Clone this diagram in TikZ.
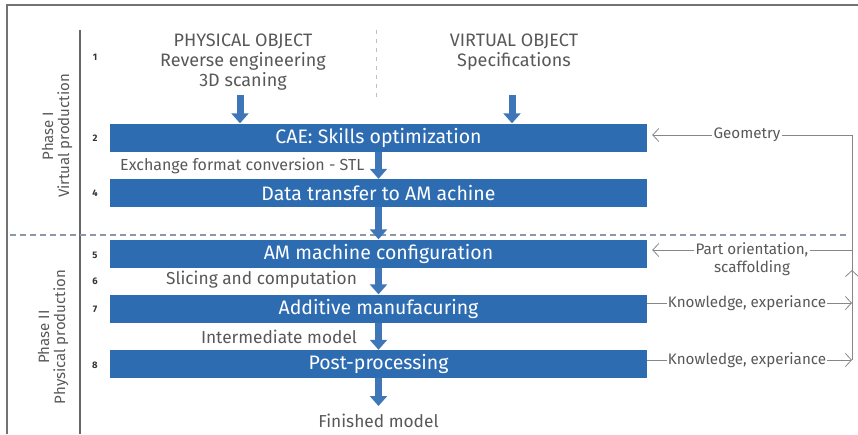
\documentclass[tikz,border=0pt]{standalone}
\usepackage{fontspec}
\setmainfont{Fira Sans}
\usetikzlibrary{arrows.meta}
\definecolor{boxblue}{RGB}{46,108,178}
\definecolor{arrowblue}{RGB}{62,118,184}
\definecolor{txtgray}{RGB}{88,88,88}
\definecolor{linegray}{RGB}{135,135,135}
\definecolor{dashgray}{RGB}{140,152,168}
\begin{document}
\begin{tikzpicture}[x=1pt,y=-1pt,
  stage/.style={fill=boxblue, text=white, minimum width=537pt, minimum height=28pt,
    inner sep=0pt, font=\fontsize{19.5}{21}\selectfont},
  flow/.style={draw=arrowblue, line width=7pt, -{Triangle[length=10pt,width=17pt]}},
  fb/.style={draw=linegray, line width=0.8pt},
  fbtip/.style={-{Straight Barb[length=6pt,width=13pt]}},
  note/.style={text=txtgray, inner sep=1pt, font=\fontsize{17.3}{19}\selectfont},
  xnote/.style={text=txtgray, inner sep=1pt, font=\fontsize{16}{18}\selectfont},
  small/.style={text=txtgray, inner sep=1pt, font=\fontsize{15.2}{17}\selectfont},
  head/.style={text=txtgray, align=center, inner sep=0pt, font=\fontsize{18}{20}\selectfont},
  num/.style={text=black!80, inner sep=0pt, font=\bfseries\fontsize{9.5}{10}\selectfont},
  phase/.style={text=txtgray, align=center, rotate=90, inner sep=0pt, font=\fontsize{15}{16}\selectfont}]
\useasboundingbox (0,0) rectangle (858,434);

% frame and phase rail
\draw[draw=black!55, line width=1.2pt] (7,434) -- (7,5) -- (858,5);
\draw[draw=black!60, line width=1.5pt] (80,30) -- (80,434);
\draw[draw=black!25, line width=1pt, dash pattern=on 4pt off 5pt] (376,30) -- (376,100);
\draw[draw=dashgray, line width=1.2pt, dash pattern=on 6pt off 4pt] (10,235) -- (848,235);

% phase labels
\node[phase] (ph1) at (57,136) {Phase I\\Virtual production};
\node[phase] (ph2) at (53,337) {Phase II\\Physical production};

% sources
\node[head] (phys) at (243,62) {PHYSICAL OBJECT\\Reverse engineering\\3D scaning};
\node[head] (virt) at (514,52) {VIRTUAL OBJECT\\Specifications};
\coordinate (physout) at (240,95);
\coordinate (virtout) at (512,95);

% stages
\node[stage] (b2) at (378.5,137.5) {CAE: Skills optimization};
\node[stage] (b4) at (378.5,193) {Data transfer to AM achine};
\node[stage] (b5) at (378.5,253.5) {AM machine configuration};
\node[stage] (b7) at (378.5,308.5) {Additive manufacuring};
\node[stage] (b8) at (378.5,364) {Post-processing};
\coordinate (finish) at (378.5,406);

% step numbers
\node[num] (n1) at (95,57) {1};
\node[num] (n2) at (95,138) {2};
\node[num] (n4) at (95,193) {4};
\node[num] (n5) at (95,255) {5};
\node[num] (n6) at (95,281) {6};
\node[num] (n7) at (95,309) {7};
\node[num] (n8) at (95,365) {8};

% intermediate labels
\node[xnote, anchor=west] (xchg) at (119,166) {Exchange format conversion - STL};
\node[note] (slice) at (261.5,280) {Slicing and computation};
\node[note] (inter) at (279,337) {Intermediate model};
\node[note] (done) at (378.5,421) {Finished model};

% main flow
\draw[flow] (physout) -- (physout |- b2.north);
\draw[flow] (virtout) -- (virtout |- b2.north);
\draw[flow] (b2.south) -- (b4.north);
\draw[flow] (b4.south) -- (b5.north);
\draw[flow] (b5.south) -- (b7.north);
\draw[flow] (b7.south) -- (b8.north);
\draw[flow] (b8.south) -- (finish);

% feedback loop
\coordinate (rail) at (852,0);
\node[small] (geo) at (747,135) {Geometry};
\node[small] (po) at (752,250) {Part orientation,};
\node[small] (sc) at (752,268) {scaffolding};
\node[small] (k1) at (747,303) {Knowledge, experiance};
\node[small] (k2) at (747,360) {Knowledge, experiance};
\coordinate (uptip) at (852,270);

\draw[fb, fbtip] (geo.west) -- ([xshift=5pt]geo.west -| b2.east);
\draw[fb, fbtip] (po.west) -- ([xshift=5pt]po.west -| b5.east);
\draw[fb] (geo.east) -- (geo.east -| rail) -- (k2 -| rail);
\draw[fb] (po.east) -- (po.east -| rail);
\draw[fb, fbtip] (k1 -| rail) -- (uptip);
\draw[fb] (k1 -| b7.east) -- (k1.west);
\draw[fb, fbtip] (k1.east) -- (k1 -| rail);
\draw[fb] (k2 -| b8.east) -- (k2.west);
\draw[fb, fbtip] (k2.east) -- (k2 -| rail);
\end{tikzpicture}
\end{document}
